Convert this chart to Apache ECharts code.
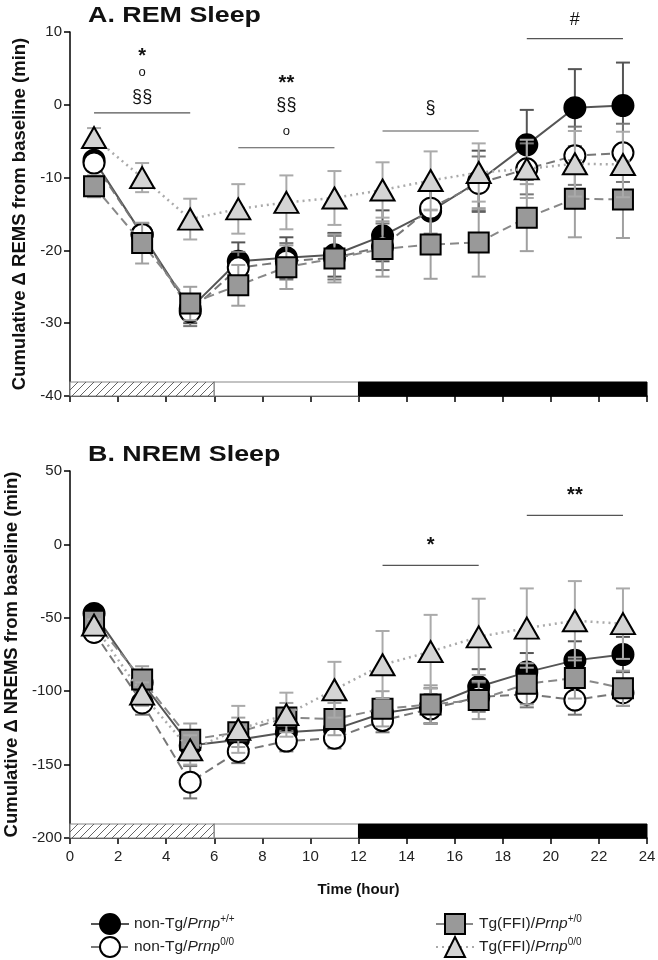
<!DOCTYPE html>
<html><head><meta charset="utf-8">
<script src="https://cdn.jsdelivr.net/npm/echarts@6/dist/echarts.min.js"></script>
<style>html,body{margin:0;padding:0;background:#fff}#c{width:658px;height:960px}</style>
</head><body><div id="c"></div>
<script>
// ---- data ----
const hours = [1,3,5,7,9,11,13,15,17,19,21,23];
const xTicks = [0,2,4,6,8,10,12,14,16,18,20,22,24];
const remTicks = [10,0,-10,-20,-30,-40];
const nremTicks = [50,0,-50,-100,-150,-200];

const remWT      = [-7.6,-17.8,-28.0,-21.5,-21.0,-20.6,-18.0,-14.6,-10.5,-5.5,-0.4,-0.1];
const remWTerr   = [0.8,1.5,2.0,2.6,2.8,3.0,3.5,4.0,4.2,4.8,5.3,5.9];
const remKO      = [-8.0,-17.8,-28.4,-22.4,-21.5,-21.0,-19.5,-14.2,-10.8,-8.8,-7.0,-6.6];
const remKOerr   = [0.8,1.5,2.0,2.2,2.5,3.0,3.2,3.5,3.7,3.5,4.0,4.0];
const remFFI     = [-11.2,-19.0,-27.3,-24.8,-22.3,-21.1,-19.8,-19.2,-18.9,-15.5,-12.9,-13.0];
const remFFIerr  = [1.5,2.8,2.3,2.8,3.0,3.3,3.8,4.7,4.7,4.6,5.3,5.3];
const remFko     = [-4.5,-10.0,-15.7,-14.3,-13.4,-12.8,-11.7,-10.4,-9.3,-8.8,-8.1,-8.2];
const remFkoErr  = [1.3,2.0,2.8,3.4,3.7,3.7,3.8,4.0,4.0,4.0,4.5,4.5];

const nremWT     = [-47,-94,-137,-133,-128,-126,-115,-110,-97,-87,-79,-75];
const nremWTerr  = [4,8,10,10,9,10,10,12,12,13,13,12];
const nremKO     = [-60,-108,-162,-141,-134,-132,-120,-112,-104,-102,-106,-101];
const nremKOerr  = [4,8,11,8,7,7,8,10,10,9,10,9];
const nremFFI    = [-52,-92,-133,-128,-118,-119,-112,-109,-106,-95,-91,-98];
const nremFFIerr = [4,9,11,10,10,11,12,13,13,14,14,12];
const nremFko    = [-55,-102,-140,-126,-116,-99,-82,-73,-63,-57,-52,-54];
const nremFkoErr = [4,8,10,16,15,19,23,25,26,27,27,24];

const periods = [[0,6],[6,12],[12,24]];
const sigLinesA = [[1,5,-1.1],[7,11,-5.9],[13,17,-3.6],[19,23,9.1]];
const sigTextA  = [[3,6.7,'*'],[3,4.5,'o'],[3,1.0,'§§'],[9,2.9,'**'],[9,-0.1,'§§'],[9,-3.7,'o'],[15,-0.5,'§'],[21,11.7,'#']];
const sigLinesB = [[13,17,-14.3],[19,23,19.8]];
const sigTextB  = [[15,-1.0,'*'],[21,33.5,'**']];

const titles = ['A. REM Sleep', 'B. NREM Sleep'];
const yNames = ['Cumulative \u0394 REMS from baseline (min)', 'Cumulative \u0394 NREMS from baseline (min)'];
const xName = 'Time (hour)';
const legendNames = {
  WT:  ['non-Tg/','Prnp','+/+'],
  KO:  ['non-Tg/','Prnp','0/0'],
  FFI: ['Tg(FFI)/','Prnp','+/0'],
  FKO: ['Tg(FFI)/','Prnp','0/0']
};

// ---- styles ----
const FONT = 'Liberation Sans, Arial, sans-serif';
const styles = {
  WT:  {symbol:'circle', size:21, fill:'#000000', line:'#555555', type:'solid', lw:2, err:'#555555'},
  KO:  {symbol:'circle', size:21, fill:'#ffffff', line:'#777777', type:[9,5], lw:2, err:'#777777'},
  FFI: {symbol:'rect', size:20, fill:'#999999', line:'#888888', type:[9,5], lw:2, err:'#a0a0a0'},
  FKO: {symbol:'triangle', size:[24,21], fill:'#d4d4d4', line:'#aaaaaa', type:[2,4], lw:2.5, err:'#aaaaaa'}
};
const keys = ['WT','KO','FFI','FKO'];

function errSeries(idx, vals, errs, color, z) {
  return {
    type:'custom', xAxisIndex:idx, yAxisIndex:idx, z:z, silent:true, clip:false,
    encode:{x:0,y:1},
    data: hours.map((h,i)=>[h, vals[i], errs[i]]),
    renderItem(params, api){
      const x=api.value(0), y=api.value(1), e=api.value(2);
      const p1=api.coord([x,y+e]), p2=api.coord([x,y-e]);
      const w=7, st={stroke:color, lineWidth:2};
      return {type:'group', children:[
        {type:'line', shape:{x1:p1[0],y1:p1[1],x2:p2[0],y2:p2[1]}, style:st},
        {type:'line', shape:{x1:p1[0]-w,y1:p1[1],x2:p1[0]+w,y2:p1[1]}, style:st},
        {type:'line', shape:{x1:p2[0]-w,y1:p2[1],x2:p2[0]+w,y2:p2[1]}, style:st}
      ]};
    }
  };
}
function lineSeries(idx, key, vals, z) {
  const s = styles[key];
  return {
    type:'line', name:key, xAxisIndex:idx, yAxisIndex:idx, z:z,
    data: hours.map((h,i)=>[h, vals[i]]),
    symbol:s.symbol, symbolSize:s.size, showAllSymbol:true,
    lineStyle:{color:s.line, width:s.lw, type:s.type},
    itemStyle:{color:s.fill, borderColor:'#000', borderWidth:2},
    emphasis:{disabled:true}
  };
}
function periodSeries(idx, yMin) {
  return {
    type:'custom', xAxisIndex:idx, yAxisIndex:idx, z:1, silent:true, clip:false,
    encode:{x:[0,1], y:2},
    data: periods.map(p=>[p[0],p[1],yMin]),
    renderItem(params, api){
      const a=api.coord([api.value(0), api.value(2)]);
      const b=api.coord([api.value(1), api.value(2)]);
      const h=14, x0=a[0], x1=b[0], yb=a[1], yt=a[1]-h;
      const i=params.dataIndex;
      const children=[];
      if (i===2) {
        children.push({type:'rect', shape:{x:x0,y:yt,width:x1-x0,height:h}, style:{fill:'#000', stroke:'#000', lineWidth:1}});
      } else {
        children.push({type:'rect', shape:{x:x0,y:yt,width:x1-x0,height:h}, style:{fill:'#fff', stroke:'#888', lineWidth:1.2}});
        if (i===0) {
          for (let s=x0-h; s<x1; s+=8) {
            let sx=s, sy=yb, ex=s+h, ey=yt;
            if (sx<x0){ sy = yb-(x0-sx); sx=x0; }
            if (ex>x1){ ey = yt+(ex-x1); ex=x1; }
            if (ex>sx) children.push({type:'line', shape:{x1:sx,y1:sy,x2:ex,y2:ey}, style:{stroke:'#555', lineWidth:0.9}});
          }
        }
      }
      return {type:'group', children};
    }
  };
}
function sigLineSeries(idx, lines) {
  return {
    type:'custom', xAxisIndex:idx, yAxisIndex:idx, z:20, silent:true, clip:false,
    encode:{x:[0,1], y:2}, data: lines,
    renderItem(params, api){
      const a=api.coord([api.value(0), api.value(2)]), b=api.coord([api.value(1), api.value(2)]);
      return {type:'line', shape:{x1:a[0],y1:a[1],x2:b[0],y2:b[1]}, style:{stroke:'#555', lineWidth:1.2}};
    }
  };
}
function sigTextSeries(idx, texts) {
  return {
    type:'custom', xAxisIndex:idx, yAxisIndex:idx, z:20, silent:true, clip:false,
    encode:{x:0, y:1}, data: texts.map(t=>[t[0],t[1]]),
    renderItem(params, api){
      const p=api.coord([api.value(0), api.value(1)]);
      const t=texts[params.dataIndex][2];
      const star = t.indexOf('*')>=0;
      const size = star ? 20 : (t==='o' ? 13 : 18);
      return {type:'text', x:p[0], y:p[1], style:{text:t, fill:'#111', font:(star?'bold ':'')+size+'px '+FONT, textAlign:'center', textVerticalAlign:'middle'}};
    }
  };
}

const series = [];
const panelVals = [
  [[remWT,remWTerr],[remKO,remKOerr],[remFFI,remFFIerr],[remFko,remFkoErr]],
  [[nremWT,nremWTerr],[nremKO,nremKOerr],[nremFFI,nremFFIerr],[nremFko,nremFkoErr]]
];
[0,1].forEach(p=>{
  keys.forEach((k,i)=>{ series.push(lineSeries(p, k, panelVals[p][i][0], 2*i+3)); });
});
[0,1].forEach(p=>{
  keys.forEach((k,i)=>{ series.push(errSeries(p, panelVals[p][i][0], panelVals[p][i][1], styles[k].err, 2*i+2)); });
});
series.push(periodSeries(0, remTicks[remTicks.length-1]));
series.push(periodSeries(1, nremTicks[nremTicks.length-1]));
series.push(sigLineSeries(0, sigLinesA), sigTextSeries(0, sigTextA));
series.push(sigLineSeries(1, sigLinesB), sigTextSeries(1, sigTextB));

function yAxis(idx, ticks, name) {
  const mx=Math.max(...ticks), mn=Math.min(...ticks);
  return {
    type:'value', gridIndex:idx, min:mn, max:mx, interval:ticks[0]-ticks[1],
    name:name, nameLocation:'middle', nameGap:41, nameRotate:90,
    nameTextStyle:{fontFamily:FONT, fontSize:18.5, fontWeight:'bold', color:'#111'},
    axisLine:{show:true, lineStyle:{color:'#000', width:1.5}},
    axisTick:{show:true, length:6, lineStyle:{color:'#000', width:1.5}},
    axisLabel:{fontFamily:FONT, fontSize:15, color:'#222', margin:8},
    splitLine:{show:false}
  };
}
function xAxis(idx, showLabels) {
  return {
    type:'value', gridIndex:idx, min:xTicks[0], max:xTicks[xTicks.length-1], interval:xTicks[1]-xTicks[0],
    name: showLabels ? xName : '', nameLocation:'middle', nameGap:44,
    nameTextStyle:{fontFamily:FONT, fontSize:15, fontWeight:'bold', color:'#111'},
    axisLine:{show:true, onZero:false, lineStyle:{color:'#000', width:1.5}},
    axisTick:{show:true, length:6, lineStyle:{color:'#000', width:1.5}},
    axisLabel:{show:showLabels, fontFamily:FONT, fontSize:15, color:'#222', margin:11},
    splitLine:{show:false}
  };
}

const rich = {
  n:{fontFamily:FONT, fontSize:15.5, color:'#222', lineHeight:19},
  i:{fontFamily:FONT, fontSize:15.5, color:'#222', fontStyle:'italic', lineHeight:19},
  s:{fontFamily:FONT, fontSize:10, color:'#222', verticalAlign:'top', lineHeight:10}
};
function legend(names, left) {
  return {
    data:names, orient:'vertical', left:left, top:913, itemWidth:38, itemHeight:25, itemGap:1,
    selectedMode:false, padding:0,
    formatter: n => `{n|${legendNames[n][0]}}{i|${legendNames[n][1]}}{s|${legendNames[n][2]}}`,
    textStyle:{fontFamily:FONT, fontSize:15.5, color:'#222', rich:rich}
  };
}

const chart = echarts.init(document.getElementById('c'), null, {renderer:'canvas'});
chart.setOption({
  animation:false,
  backgroundColor:'#fff',
  graphic:[
    {type:'text', x:88, y:5, scaleX:1.22, style:{text:titles[0], font:'bold 22px '+FONT, fill:'#111', textVerticalAlign:'top'}},
    {type:'text', x:88, y:444, scaleX:1.22, style:{text:titles[1], font:'bold 22px '+FONT, fill:'#111', textVerticalAlign:'top'}}
  ],
  grid:[
    {left:70, width:577, top:32, height:364, containLabel:false, outerBoundsMode:'none'},
    {left:70, width:577, top:471, height:367, containLabel:false, outerBoundsMode:'none'}
  ],
  xAxis:[xAxis(0,false), xAxis(1,true)],
  yAxis:[yAxis(0, remTicks, yNames[0]), yAxis(1, nremTicks, yNames[1])],
  legend:[legend(['WT','KO'], 90), legend(['FFI','FKO'], 435)],
  series:series
});
</script></body></html>
